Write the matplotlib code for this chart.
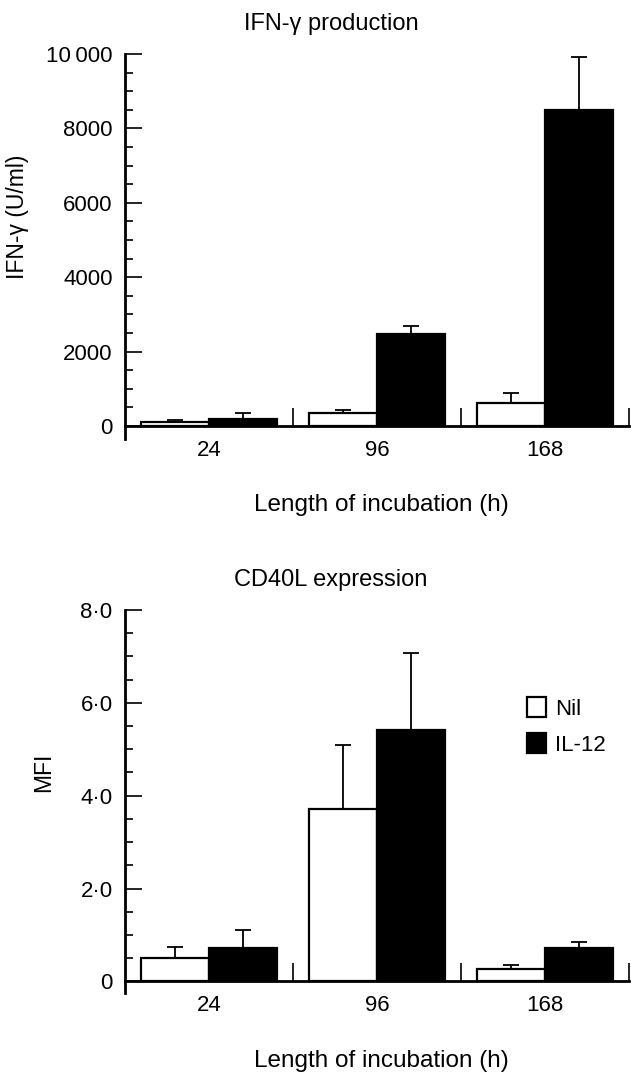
import numpy as np
import matplotlib
matplotlib.use("Agg")
import matplotlib.pyplot as plt
from matplotlib.ticker import MultipleLocator, FixedLocator
from matplotlib.patches import Patch

plt.rcParams['font.family'] = ['Liberation Sans', 'DejaVu Sans']

hours = ['24', '96', '168']
series = ['Nil', 'IL-12']

ifn_nil = [120, 360, 620]
ifn_nil_err = [40, 70, 280]
ifn_il12 = [200, 2480, 8500]
ifn_il12_err = [150, 200, 1430]

cd40_nil = [0.50, 3.71, 0.27]
cd40_nil_err = [0.25, 1.38, 0.09]
cd40_il12 = [0.73, 5.42, 0.72]
cd40_il12_err = [0.38, 1.66, 0.12]

ifn_ticks = [0, 2000, 4000, 6000, 8000, 10000]
ifn_ticklabels = ['0', '2000', '4000', '6000', '8000', '10\u2009000']
cd40_ticks = [0, 2, 4, 6, 8]
cd40_ticklabels = ['0', '2\u00b70', '4\u00b70', '6\u00b70', '8\u00b70']

W, H = 631, 1072
fig = plt.figure(figsize=(W / 100, H / 100), dpi=100)

TICK_FS = 16
TITLE_FS = 17
XLAB_FS = 17.5
bar_w = 0.405
x = np.arange(len(hours)) + 0.5


def draw_panel(ax, nil, nil_err, il12, il12_err, ymin, ymax, minor):
    ax.bar(x - bar_w / 2, nil, bar_w, color='white', edgecolor='black', linewidth=1.6, zorder=3)
    ax.bar(x + bar_w / 2, il12, bar_w, color='black', edgecolor='black', linewidth=1.6, zorder=3)
    ax.errorbar(x - bar_w / 2, nil, yerr=[np.zeros(3), nil_err], fmt='none',
                ecolor='black', elinewidth=1.3, capsize=5.5, capthick=1.3, zorder=2)
    ax.errorbar(x + bar_w / 2, il12, yerr=[np.zeros(3), il12_err], fmt='none',
                ecolor='black', elinewidth=1.3, capsize=5.5, capthick=1.3, zorder=2)
    ax.set_xlim(0, 3)
    ax.set_ylim(ymin, ymax)
    ax.spines['top'].set_visible(False)
    ax.spines['right'].set_visible(False)
    ax.spines['bottom'].set_position(('data', 0))
    ax.spines['left'].set_linewidth(2.0)
    ax.spines['bottom'].set_linewidth(2.0)
    ax.set_xticks(x)
    ax.set_xticklabels(hours, fontsize=TICK_FS)
    ax.xaxis.set_minor_locator(FixedLocator([1, 2, 3]))
    ax.tick_params(axis='x', which='major', length=0, pad=10)
    ax.tick_params(axis='x', which='minor', direction='in', length=13, width=1.2)
    ax.yaxis.set_minor_locator(MultipleLocator(minor))
    ax.tick_params(axis='y', which='major', direction='in', length=12, width=1.2,
                   labelsize=TICK_FS, pad=9)
    ax.tick_params(axis='y', which='minor', direction='in', length=6, width=1.2)


# top panel
ax1 = fig.add_axes([125 / W, 1 - 439 / H, 504 / W, 385 / H])
draw_panel(ax1, ifn_nil, ifn_nil_err, ifn_il12, ifn_il12_err, -350, 10000, 500)
ax1.set_yticks(ifn_ticks)
ax1.set_yticklabels(ifn_ticklabels)
ax1.set_ylabel('IFN-\u03b3 (U/ml)', fontsize=16.5)
ax1.yaxis.set_label_coords(-0.19, 0.577)

fig.text(331 / W, 1 - 24 / H, 'IFN-\u03b3 production', fontsize=TITLE_FS, ha='center', va='center')
fig.text(381 / W, 1 - 505 / H, 'Length of incubation (h)', fontsize=XLAB_FS, ha='center', va='center')

# bottom panel
ax2 = fig.add_axes([125 / W, 1 - 993 / H, 504 / W, 383 / H])
draw_panel(ax2, cd40_nil, cd40_nil_err, cd40_il12, cd40_il12_err, -0.25, 8, 0.5)
ax2.set_yticks(cd40_ticks)
ax2.set_yticklabels(cd40_ticklabels)
ax2.set_ylabel('MFI', fontsize=16.5)
ax2.yaxis.set_label_coords(-0.139, 0.577)

handles = [Patch(facecolor='white', edgecolor='black', linewidth=1.6),
           Patch(facecolor='black', edgecolor='black', linewidth=1.6)]
ax2.legend(handles, series, loc='upper left', bbox_to_anchor=(0.798, 0.772), frameon=False,
           fontsize=TICK_FS, handlelength=0.85, handleheight=1.0, handletextpad=0.4,
           labelspacing=0.6, borderaxespad=0, borderpad=0)

fig.text(331 / W, 1 - 580 / H, 'CD40L expression', fontsize=TITLE_FS, ha='center', va='center')
fig.text(381 / W, 1 - 1061 / H, 'Length of incubation (h)', fontsize=XLAB_FS, ha='center', va='center')

fig.savefig('out.png', dpi=100)
